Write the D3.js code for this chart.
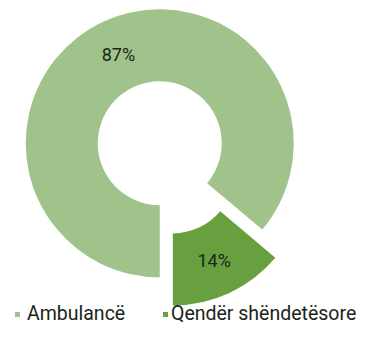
<!DOCTYPE html>
<html><head><meta charset="utf-8">
<script src="https://cdn.jsdelivr.net/npm/d3@7"></script>
<style>body{margin:0;background:#fff}svg{display:block}text{font-family:Roboto,sans-serif}</style>
</head><body>
<svg id="c" width="374" height="340"></svg>
<script>
const categories = ["Ambulancë", "Qendër shëndetësore"];
const values = [87, 14];
const labels = ["87%", "14%"];
const colors = ["#9fc38b", "#68a040"];
const offsets = [3, 28];

const svg = d3.select("#c");
const cx = 161, cy = 146, R = 134, r = 62;
const pie = d3.pie().sort(null).startAngle(Math.PI).endAngle(3 * Math.PI);
const arcs = pie(values);
const arc = d3.arc().innerRadius(r).outerRadius(R);
const g = svg.append("g").attr("transform", `translate(${cx},${cy})`);
arcs.forEach((a, i) => {
  const mid = (a.startAngle + a.endAngle) / 2;
  const dx = Math.sin(mid) * offsets[i], dy = -Math.cos(mid) * offsets[i];
  const s = g.append("g").attr("transform", `translate(${dx},${dy})`);
  s.append("path").attr("d", arc(a)).attr("fill", colors[i]);
  const c = arc.centroid(a);
  s.append("text").attr("x", c[0]).attr("y", c[1]).attr("dy", "0.36em")
    .attr("text-anchor", "middle").attr("font-size", 18).attr("fill", "#1a2418").text(labels[i]);
});
const lg = svg.append("g");
const sx = [15, 163], tx = [27, 171];
categories.forEach((c, i) => {
  lg.append("rect").attr("x", sx[i]).attr("y", 312).attr("width", 5).attr("height", 5).attr("fill", colors[i]);
  lg.append("text").attr("x", tx[i]).attr("y", 320).attr("font-size", 19.5).attr("fill", "#1a2418").text(c);
});
</script>
</body></html>
